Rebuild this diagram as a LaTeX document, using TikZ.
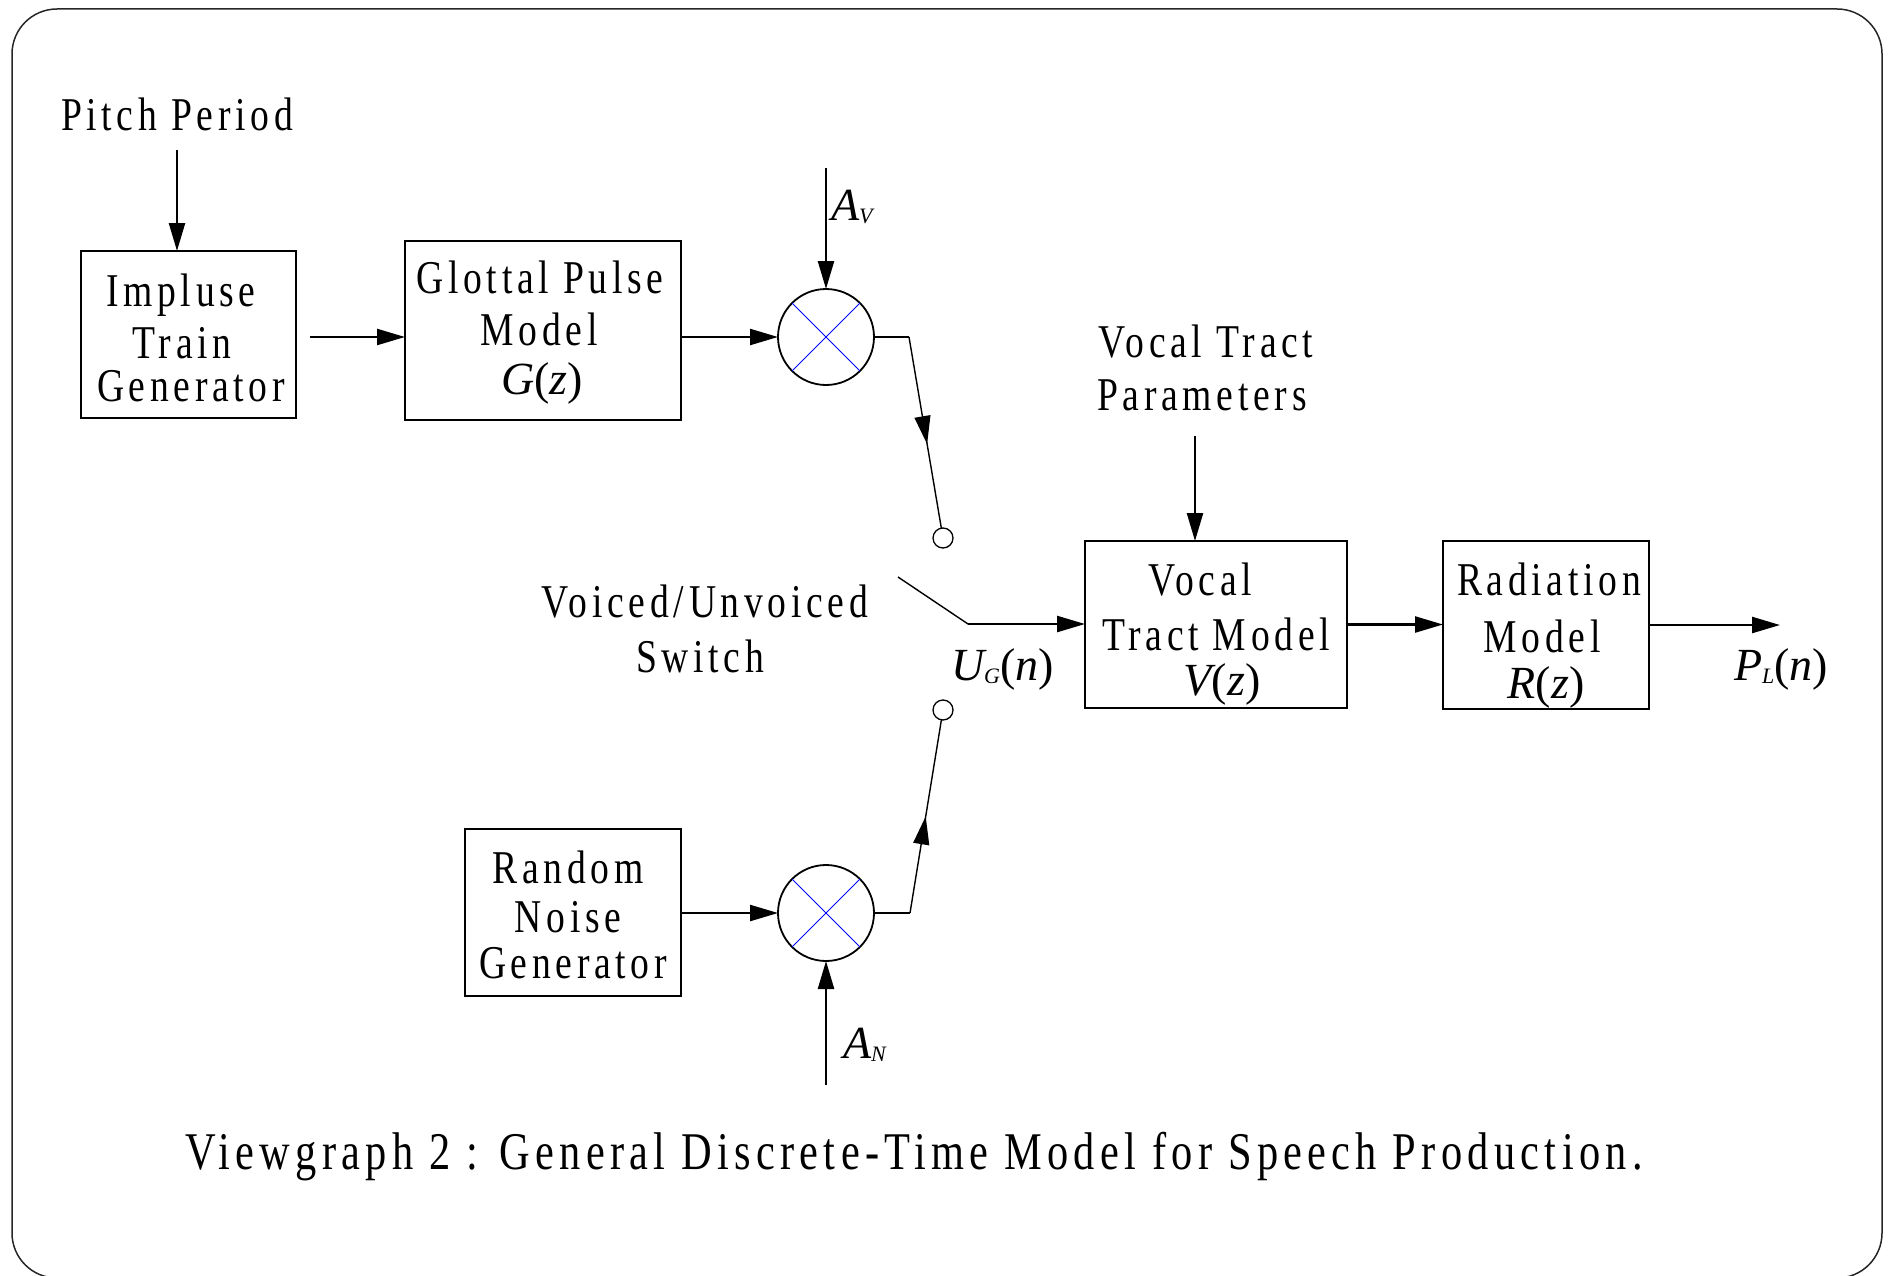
\documentclass[tikz,border=0pt]{standalone}
\usepackage{fontspec}
\setmainfont{Liberation Serif}
\newfontfamily\lab{Liberation Serif}[FakeStretch=0.8,LetterSpace=10]
\newfontfamily\mlab{Liberation Serif}[LetterSpace=5]
\usetikzlibrary{arrows.meta,decorations.markings}
\newcommand{\sbs}[1]{\raisebox{-3pt}{\fontsize{22}{22}\selectfont #1}}
\begin{document}
\begin{tikzpicture}[x=1pt,y=-1pt,
  box/.style={draw, line width=2.2pt, inner sep=0pt, outer sep=0pt},
  lbl/.style={anchor=base, inner sep=0pt, outer sep=0pt, font=\lab\fontsize{47}{47}\selectfont},
  captxt/.style={anchor=base, inner sep=0pt, outer sep=0pt, font=\lab\fontsize{53}{53}\selectfont},
  mlbl/.style={anchor=base west, inner sep=0pt, outer sep=0pt, font=\mlab\itshape\fontsize{46}{46}\selectfont},
  mult/.style={circle, draw, line width=1.8pt, minimum size=96pt, inner sep=0pt, outer sep=0pt},
  contact/.style={circle, draw, line width=1.3pt, minimum size=20pt, inner sep=0pt, outer sep=0pt},
  arr/.style={line width=2.4pt, -{Triangle[length=28pt,width=16pt]}},
  thinl/.style={line width=1.4pt},
  midarr/.style={postaction={decorate}, decoration={markings,
     mark=at position #1 with {\arrow{Triangle[length=28pt,width=16pt]}}}},
  cross/.style={blue, line width=0.9pt}]
\useasboundingbox (0,0) rectangle (1889,1276);
\begin{scope}
\clip (0,0) rectangle (1889,1276);
\draw[line width=1.5pt, black!85, rounded corners=45pt] (12,9) rectangle (1882,1278);
\end{scope}

% boxes
\node[box, minimum width=215pt, minimum height=167pt] (itg) at (188.5,334.5) {};
\node[box, minimum width=276pt, minimum height=179pt] (gp) at (543,330.5) {};
\node[box, minimum width=216pt, minimum height=167pt] (rng) at (573,912.5) {};
\node[box, minimum width=262pt, minimum height=167pt] (vt) at (1216,624.5) {};
\node[box, minimum width=206pt, minimum height=168pt] (rad) at (1546,625) {};

% box texts
\node[lbl] (t1a) at (181,306) {Impluse};
\node[lbl] (t1b) at (182,358) {Train};
\node[lbl] (t1c) at (191,401) {Generator};
\node[lbl] (t2a) at (540,293) {Glottal Pulse};
\node[lbl] (t2b) at (539,345) {Model};
\node[mlbl, anchor=base] (t2c) at (542,394) {G\upshape(\itshape z\upshape)};
\node[lbl] (t3a) at (568,883) {Random};
\node[lbl] (t3b) at (568,932) {Noise};
\node[lbl] (t3c) at (573,978) {Generator};
\node[lbl] (t4a) at (1200,595) {Vocal};
\node[lbl] (t4b) at (1216,650) {Tract Model};
\node[mlbl, anchor=base] (t4c) at (1222,695) {V\upshape(\itshape z\upshape)};
\node[lbl] (t5a) at (1549,595) {Radiation};
\node[lbl] (t5b) at (1542,652) {Model};
\node[mlbl, anchor=base] (t5c) at (1546,698) {R\upshape(\itshape z\upshape)};

% free labels
\node[lbl] (pp) at (177,131) {Pitch Period};
\node[lbl] (vtp1) at (1206,357) {Vocal Tract};
\node[lbl] (vtp2) at (1202,410) {Parameters};
\node[lbl] (vu1) at (705,617) {Voiced/Unvoiced};
\node[lbl] (vu2) at (700,672) {Switch};
\node[mlbl] (av) at (831,220) {A\sbs{V}};
\node[mlbl] (an) at (843,1058) {A\sbs{N}};
\node[mlbl] (ug) at (951,680) {U\sbs{G}\upshape(\itshape n\upshape)};
\node[mlbl] (pl) at (1734,680) {P\sbs{L}\upshape(\itshape n\upshape)};
\node[captxt] (caption) at (914,1169) {Viewgraph 2 : General Discrete-Time Model for Speech Production.};

% multipliers
\node[mult] (mv) at (826,337) {};
\node[mult] (mn) at (826,913) {};
\draw[cross] (mv.45) -- (mv.225) (mv.135) -- (mv.315);
\draw[cross] (mn.45) -- (mn.225) (mn.135) -- (mn.315);

% switch contacts
\node[contact] (sv) at (943,538) {};
\node[contact] (sn) at (943,710) {};

% coordinates
\coordinate (ppin) at (177,150);
\coordinate (a1) at (310,337);
\coordinate (avin) at (826,168);
\coordinate (anin) at (826,1085);
\coordinate (c1) at (909,337);
\coordinate (c2) at (910,913);
\coordinate (sw1) at (898,577);
\coordinate (sw2) at (968,624);
\coordinate (vtpin) at (1195,436);
\coordinate (out) at (1780,625);

% connectors
\draw[arr] (ppin) -- (ppin |- itg.north);
\draw[arr] (a1) -- (a1 -| gp.west);
\draw[arr] (gp.east |- mv.west) -- (mv.west);
\draw[arr] (rng.east |- mn.west) -- (mn.west);
\draw[arr] (avin) -- (mv.north);
\draw[arr] (anin) -- (mn.south);
\draw[thinl] (mv.east) -- (c1);
\draw[thinl, midarr=0.56] (c1) -- (sv);
\draw[thinl] (mn.east) -- (c2);
\draw[thinl, midarr=0.5] (c2) -- (sn);
\draw[thinl] (sw1) -- (sw2);
\draw[arr] (sw2) -- (sw2 -| vt.west);
\draw[arr] (vtpin) -- (vtpin |- vt.north);
\draw[arr] (vt.east) -- (vt.east -| rad.west);
\draw[arr] (rad.east) -- (out);
\end{tikzpicture}
\end{document}
